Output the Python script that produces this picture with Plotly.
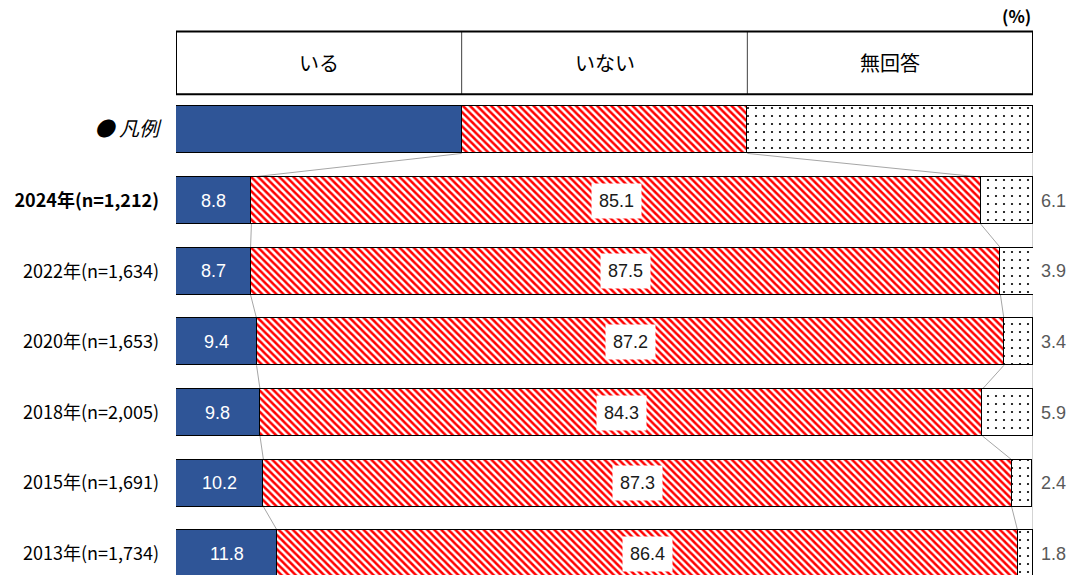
import plotly.graph_objects as go

# Survey years and sample sizes (top to bottom)
years = ["2024年(n=1,212)", "2022年(n=1,634)", "2020年(n=1,653)",
         "2018年(n=2,005)", "2015年(n=1,691)", "2013年(n=1,734)"]
categories = ["いる", "いない", "無回答"]

iru = [8.8, 8.7, 9.4, 9.8, 10.2, 11.8]
inai = [85.1, 87.5, 87.2, 84.3, 87.3, 86.4]
mukaitou = [6.1, 3.9, 3.4, 5.9, 2.4, 1.8]

legend_label = "● 凡例"
legend_share = [100 / 3, 100 / 3, 100 / 3]

BLUE = "#2F5597"
RED = "#FF0000"
GRAY_LINE = "#A6A6A6"
JP_FONT = "Noto Sans CJK JP"
NUM_FONT = "Liberation Sans"

BAR_W = 0.665
HEADER_Y = -0.95
HEADER_H = 0.89

# row 0 = legend sample bar, rows 1..6 = survey years
rows = list(range(len(years) + 1))
series = [
    [legend_share[0]] + iru,
    [legend_share[1]] + inai,
    [legend_share[2]] + mukaitou,
]

styles = [
    dict(color=BLUE),
    dict(color="white",
         pattern=dict(shape="\\", fgcolor=RED, fgopacity=1, bgcolor="white",
                      size=5, solidity=0.5)),
    dict(color="white",
         pattern=dict(shape=".", fgcolor="black", fgopacity=1, bgcolor="white",
                      size=8, solidity=0.06)),
]

fig = go.Figure()
for name, vals, st in zip(categories, series, styles):
    fig.add_trace(go.Bar(
        y=rows, x=vals, orientation="h", name=name, width=BAR_W,
        marker=dict(line=dict(color="black", width=1.3), **st),
        cliponaxis=False, hoverinfo="skip", showlegend=False,
    ))

annotations = []
shapes = []

# value labels
for i, r in enumerate(rows[1:]):
    a, b, c = iru[i], inai[i], mukaitou[i]
    annotations.append(dict(x=a / 2, y=r, text=f"{a:.1f}", showarrow=False,
                            font=dict(family=NUM_FONT, size=18, color="white")))
    annotations.append(dict(x=a + b / 2, y=r, text=f"{b:.1f}", showarrow=False,
                            bgcolor="white", borderpad=7,
                            font=dict(family=NUM_FONT, size=18, color="#1a1a1a")))
    annotations.append(dict(x=100, y=r, text=f"{c:.1f}", showarrow=False,
                            xanchor="left", xshift=6,
                            font=dict(family=NUM_FONT, size=18, color="#595959")))

# connector lines between the stacked segment boundaries
cums = []
for r in rows:
    s1 = series[0][r]
    s2 = s1 + series[1][r]
    cums.append((s1, s2))
for r in rows[:-1]:
    for k in range(2):
        shapes.append(dict(type="line", xref="x", yref="y",
                           x0=cums[r][k], y0=r + BAR_W / 2,
                           x1=cums[r + 1][k], y1=r + 1 - BAR_W / 2,
                           line=dict(color=GRAY_LINE, width=1), layer="below"))

# right reference line at 100%
shapes.append(dict(type="line", xref="x", yref="y", x0=100, x1=100,
                   y0=BAR_W / 2, y1=6.3, line=dict(color=GRAY_LINE, width=1),
                   layer="below"))

# header boxes with category names
y0h, y1h = HEADER_Y - HEADER_H / 2, HEADER_Y + HEADER_H / 2
left = 0
for k, cat in enumerate(categories):
    w = legend_share[k]
    annotations.append(dict(x=left + w / 2, y=HEADER_Y, text=cat, showarrow=False,
                            font=dict(family=JP_FONT, size=20, color="black")))
    if k > 0:
        shapes.append(dict(type="line", xref="x", yref="y", x0=left, x1=left,
                           y0=y0h, y1=y1h, line=dict(color="#404040", width=1)))
    left += w
shapes.append(dict(type="rect", xref="x", yref="y", x0=0, x1=100, y0=y0h, y1=y1h,
                   line=dict(color="black", width=2)))

annotations.append(dict(x=100, y=y0h, text="<b>(%)</b>", showarrow=False,
                        xanchor="right", yanchor="bottom", yshift=1,
                        font=dict(family=JP_FONT, size=17, color="black")))

ticktext = ["<i><span style='font-size:20px'>" + legend_label + "</span></i>",
            "<b>" + years[0] + "</b>"] + years[1:]

fig.update_layout(
    width=1072, height=577,
    margin=dict(l=176, r=39, t=24, b=2),
    paper_bgcolor="white", plot_bgcolor="white",
    barmode="stack", bargap=0,
    xaxis=dict(range=[0, 100], visible=False, fixedrange=True),
    yaxis=dict(range=[6.3, -1.5], tickvals=rows, ticktext=ticktext,
               showgrid=False, zeroline=False, showline=False, ticks="",
               ticklabelstandoff=16,
               tickfont=dict(family=JP_FONT, size=18, color="black")),
    annotations=annotations, shapes=shapes,
)

fig.write_html("out.html")
